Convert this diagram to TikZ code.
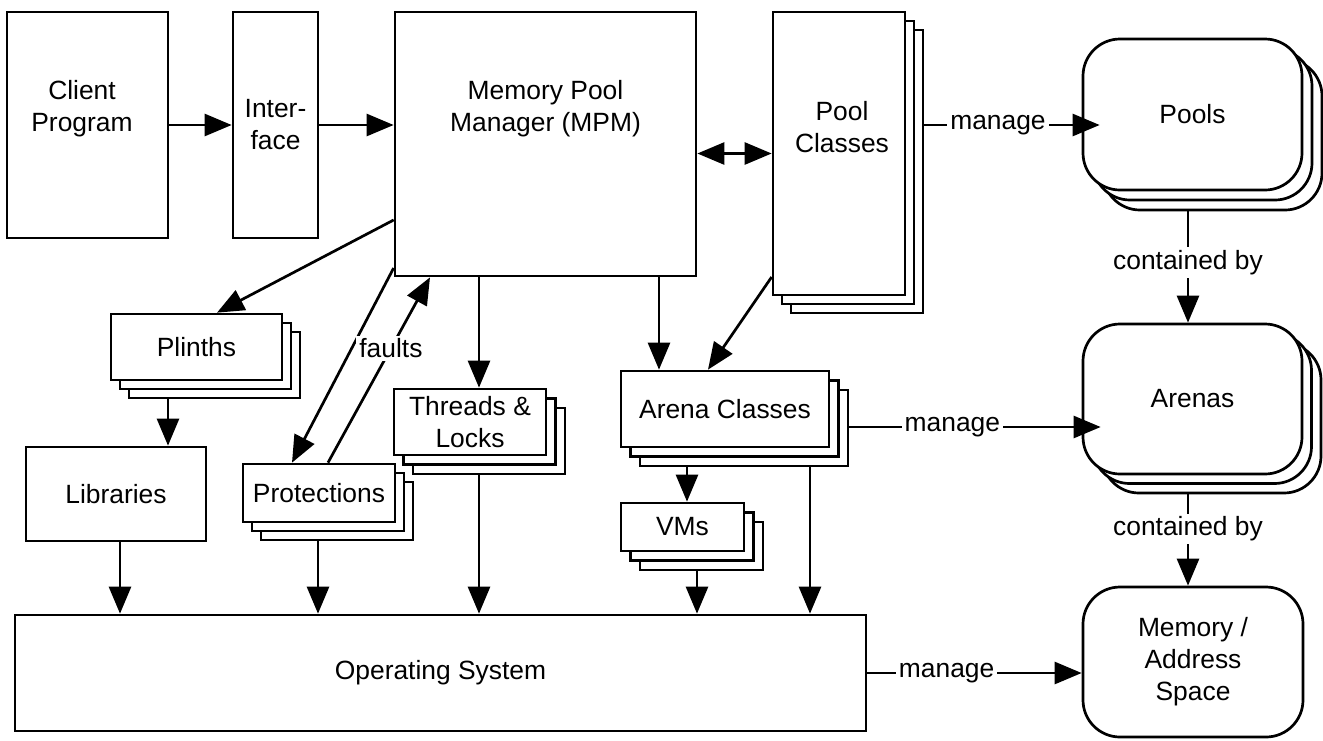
\documentclass[tikz,border=0pt]{standalone}
\usepackage{fontspec}
\setmainfont{Liberation Sans}
\usetikzlibrary{arrows.meta,shadows,calc}
\begin{document}
\begin{tikzpicture}[x=1pt,y=-1pt,
  every node/.style={font=\fontsize{26.4}{32}\selectfont},
  box/.style={draw=black,fill=white,line width=2.7pt,rectangle,inner sep=0pt,align=center},
  rbox/.style={box,rounded corners=37pt},
  stack/.style={
    copy shadow={shadow xshift=2*#1,shadow yshift=-2*#1,draw=black,fill=white,line width=2.7pt},
    copy shadow={shadow xshift=#1,shadow yshift=-#1,draw=black,fill=white,line width=2.7pt}},
  stack/.default=9.5pt,
  txt/.style={align=center,inner sep=0pt},
  arr/.style={line width=2.7pt,-{Triangle[length=27pt,width=22pt]}},
  darr/.style={line width=2.7pt,{Triangle[length=27pt,width=22pt]}-{Triangle[length=27pt,width=22pt]}},
  lbl/.style={fill=white,inner sep=3pt}]
\useasboundingbox (0,0) rectangle (1323,740);

% boxes
\node[box,minimum width=161pt,minimum height=226pt] (client) at (87.5,125) {};
\node[txt] (clientt) at (82,109) {Client\\Program};
\node[box,minimum width=85pt,minimum height=226pt] (iface) at (275.5,125) {Inter-\\face};
\node[box,minimum width=301pt,minimum height=264pt] (mpm) at (545.5,144) {};
\node[txt] (mpmt) at (545.5,109) {Memory Pool\\Manager (MPM)};
\node[box,stack=9pt,minimum width=132pt,minimum height=283pt] (poolc) at (839,153.5) {};
\node[txt] (poolct) at (842,127.5) {Pool\\Classes};
\node[rbox,stack=10pt,minimum width=219pt,minimum height=151pt] (pools) at (1192.5,114.5) {Pools};
\node[rbox,stack=9.5pt,minimum width=219pt,minimum height=150pt] (arenas) at (1192.5,399) {Arenas};
\node[rbox,minimum width=220pt,minimum height=150pt] (mem) at (1193,662) {Memory /\\Address\\Space};
\node[box,stack=9pt,minimum width=171pt,minimum height=66pt] (plinths) at (196.5,347) {Plinths};
\node[box,minimum width=180pt,minimum height=94pt] (lib) at (116,494) {Libraries};
\node[box,stack=9pt,minimum width=152pt,minimum height=58pt] (prot) at (319,493) {Protections};
\node[box,stack=9.5pt,minimum width=152pt,minimum height=66pt] (threads) at (470,422) {Threads \&\\Locks};
\node[box,stack=9.5pt,minimum width=208pt,minimum height=76pt] (arenac) at (725,409) {Arena Classes};
\node[box,stack=9.5pt,minimum width=123pt,minimum height=48pt] (vms) at (682.5,527) {VMs};
\node[box,minimum width=851pt,minimum height=116pt] (os) at (440.5,673) {Operating System};

% connectors
\draw[arr] (client.east) -- (iface.west);
\draw[arr] (iface.east) -- (iface.east -| mpm.west);
\draw[darr] (poolc.west -| mpm.east) -- (poolc.west);
\draw[arr] ([shift={(18,-28.5)}]poolc.east) -- node[lbl,pos=0.42]{manage} ([shift={(18,-28.5)}]poolc.east -| pools.west);
\draw[arr] ([shift={(-4.5,20)}]pools.south) -- node[lbl,pos=0.46]{contained by} ([xshift=-4.5pt]pools.south |- arenas.north);
\draw[arr] ([shift={(-4.5,19)}]arenas.south) -- node[lbl,pos=0.38]{contained by} ([xshift=-4.5pt]arenas.south |- mem.north);
\draw[arr] ([shift={(19,18)}]arenac.east) -- node[lbl,pos=0.41]{manage} ([shift={(19,18)}]arenac.east -| arenas.west);
\draw[arr] (os.east) -- node[lbl,pos=0.37]{manage} (os.east -| mem.west);
\draw[arr] ([shift={(0,76)}]mpm.west) -- ([xshift=20.5pt]plinths.north);
\draw[arr] ([shift={(-28.5,18)}]plinths.south) -- ([xshift=-28.5pt]plinths.south |- lib.north);
\draw[arr] ([xshift=4pt]lib.south) -- ([xshift=4pt]lib.south |- os.north);
\draw[arr] ([shift={(0,124)}]mpm.west) -- ([xshift=-27pt]prot.north);
\draw[arr] ([xshift=9pt]prot.north) -- node[lbl,pos=0.617]{faults} ([xshift=-115.5pt]mpm.south);
\draw[arr] ([xshift=-66.5pt]mpm.south) -- ([xshift=-66.5pt]mpm.south |- threads.north);
\draw[arr] ([shift={(9,19)}]threads.south) -- ([xshift=9pt]threads.south |- os.north);
\draw[arr] ([shift={(-1,18)}]prot.south) -- ([xshift=-1pt]prot.south |- os.north);
\draw[arr] ([xshift=113.5pt]mpm.south) -- ([xshift=113.5pt]mpm.south |- arenac.north);
\draw[arr] ([shift={(0,123.5)}]poolc.west) -- ([xshift=-17pt]arenac.north);
\draw[arr] ([shift={(-38,19)}]arenac.south) -- ([xshift=-38pt]arenac.south |- vms.north);
\draw[arr] ([shift={(14.5,19)}]vms.south) -- ([xshift=14.5pt]vms.south |- os.north);
\draw[arr] ([shift={(85,19)}]arenac.south) -- ([xshift=85pt]arenac.south |- os.north);
\end{tikzpicture}
\end{document}
